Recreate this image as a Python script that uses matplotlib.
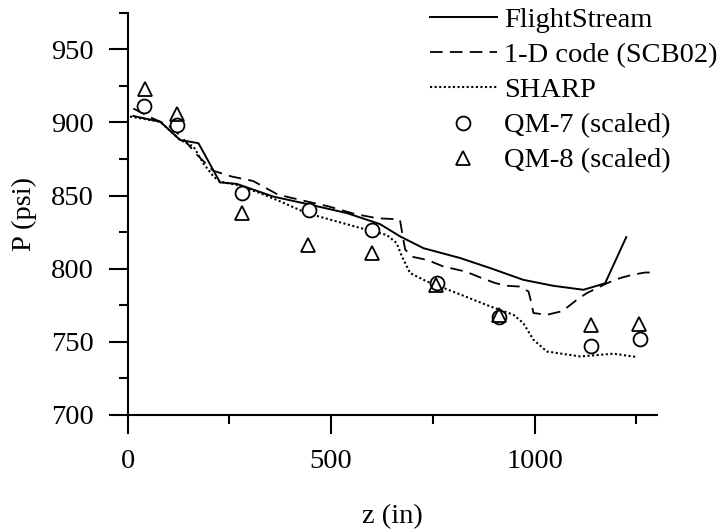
import matplotlib
matplotlib.use("Agg")
import matplotlib.pyplot as plt
from matplotlib.ticker import MultipleLocator

plt.rcParams['font.family'] = ['Liberation Serif', 'DejaVu Serif']

# FlightStream (solid)
fs_z = [14, 80, 129, 174, 227, 268, 358, 440, 539, 620, 670, 727, 817, 891, 972, 1046, 1120, 1173, 1225]
fs_p = [904.4, 900.5, 888, 885.8, 859, 858, 849.3, 844.3, 838, 830.5, 822, 814, 807.3, 800.4, 792.4, 788.3, 785.6, 790, 821.6]

# 1-D code (SCB02) (dashed)
scb_z = [14, 60, 100, 133, 170, 210, 256, 308, 367, 394, 440, 495, 557, 613, 650, 669, 676, 682, 702, 736,
         776, 831, 870, 903, 932, 964, 985, 991, 997, 1030, 1068, 1104, 1128, 1153, 1177, 1210, 1239, 1271, 1292]
scb_p = [909.5, 903, 898, 890, 878, 867, 863, 860, 851, 849, 846, 842.5, 837.5, 834.5, 834, 833.5, 822, 813, 808, 806,
         801.5, 798, 793.6, 790.2, 788.3, 787.8, 784.4, 777.6, 769.7, 768.5, 771, 778.8, 783.3, 786.7, 790, 793.6, 795.8, 797.4, 797.4]

# SHARP (dotted)
sharp_z = [6, 80, 129, 162, 186, 211, 227, 268, 326, 375, 440, 514, 588, 637, 661, 674, 694, 735, 809, 891,
           948, 972, 997, 1030, 1112, 1194, 1251]
sharp_p = [904, 900.5, 888, 883.5, 872, 863, 859.6, 857.3, 851.6, 846, 838, 832.3, 826.6, 823, 817.5, 808.3, 797, 791.3, 783.3, 774.2,
           768.5, 762.8, 751.4, 743.4, 740, 741.9, 739.6]

# test data
qm7_z = [40, 122, 282, 446, 601, 760, 913, 1139, 1259]
qm7_p = [911, 898, 851.6, 840.2, 826.6, 790.5, 767.3, 746.9, 752.1]
qm8_z = [43, 121, 282, 442, 601, 758, 913, 1139, 1257]
qm8_p = [923.2, 905.8, 838, 816.3, 810.7, 789, 768.5, 761.7, 762.4]

fs = 20.5

fig = plt.figure(figsize=(7.17, 5.31), dpi=100)
ax = fig.add_axes([0.178, 0.2185, 0.738, 0.7575])

ax.plot(fs_z, fs_p, color='black', lw=1.4, label='FlightStream')
ax.plot(scb_z, scb_p, color='black', lw=1.3, linestyle=(0, (7, 4)), label='1-D code (SCB02)')
ax.plot(sharp_z, sharp_p, color='black', lw=1.5, linestyle=(0, (1, 1.2)), label='SHARP')
ax.plot(qm7_z, qm7_p, 'o', ms=10, mfc='white', mec='black', mew=1.3, label='QM-7 (scaled)')
ax.plot(qm8_z, qm8_p, '^', ms=10.5, mfc='none', mec='black', mew=1.3, label='QM-8 (scaled)')

ax.set_xlim(0, 1300)
ax.set_ylim(700, 975)
ax.xaxis.set_major_locator(MultipleLocator(500))
ax.xaxis.set_minor_locator(MultipleLocator(250))
ax.yaxis.set_minor_locator(MultipleLocator(25))
ax.set_yticks([700, 750, 800, 850, 900, 950])

for s in ['top', 'right']:
    ax.spines[s].set_visible(False)
for s in ['left', 'bottom']:
    ax.spines[s].set_linewidth(1.5)

ax.tick_params(which='major', direction='out', length=13.5, width=1.5, labelsize=fs, pad=11)
ax.tick_params(which='minor', direction='out', length=6.5, width=1.5)

ax.set_xlabel('z (in)', fontsize=fs)
ax.set_ylabel('P (psi)', fontsize=fs)
ax.xaxis.set_label_coords(0.5, -0.222)
ax.yaxis.set_label_coords(-0.171, 0.5)

leg = ax.legend(loc='upper left', bbox_to_anchor=(430 / 717, 0.986), bbox_transform=fig.transFigure,
                frameon=False, fontsize=fs, borderpad=0.0, borderaxespad=0.0, handlelength=2.35,
                handletextpad=0.25, labelspacing=0.32, markerscale=1.0, numpoints=1)

fig.savefig('out.png', dpi=100)
